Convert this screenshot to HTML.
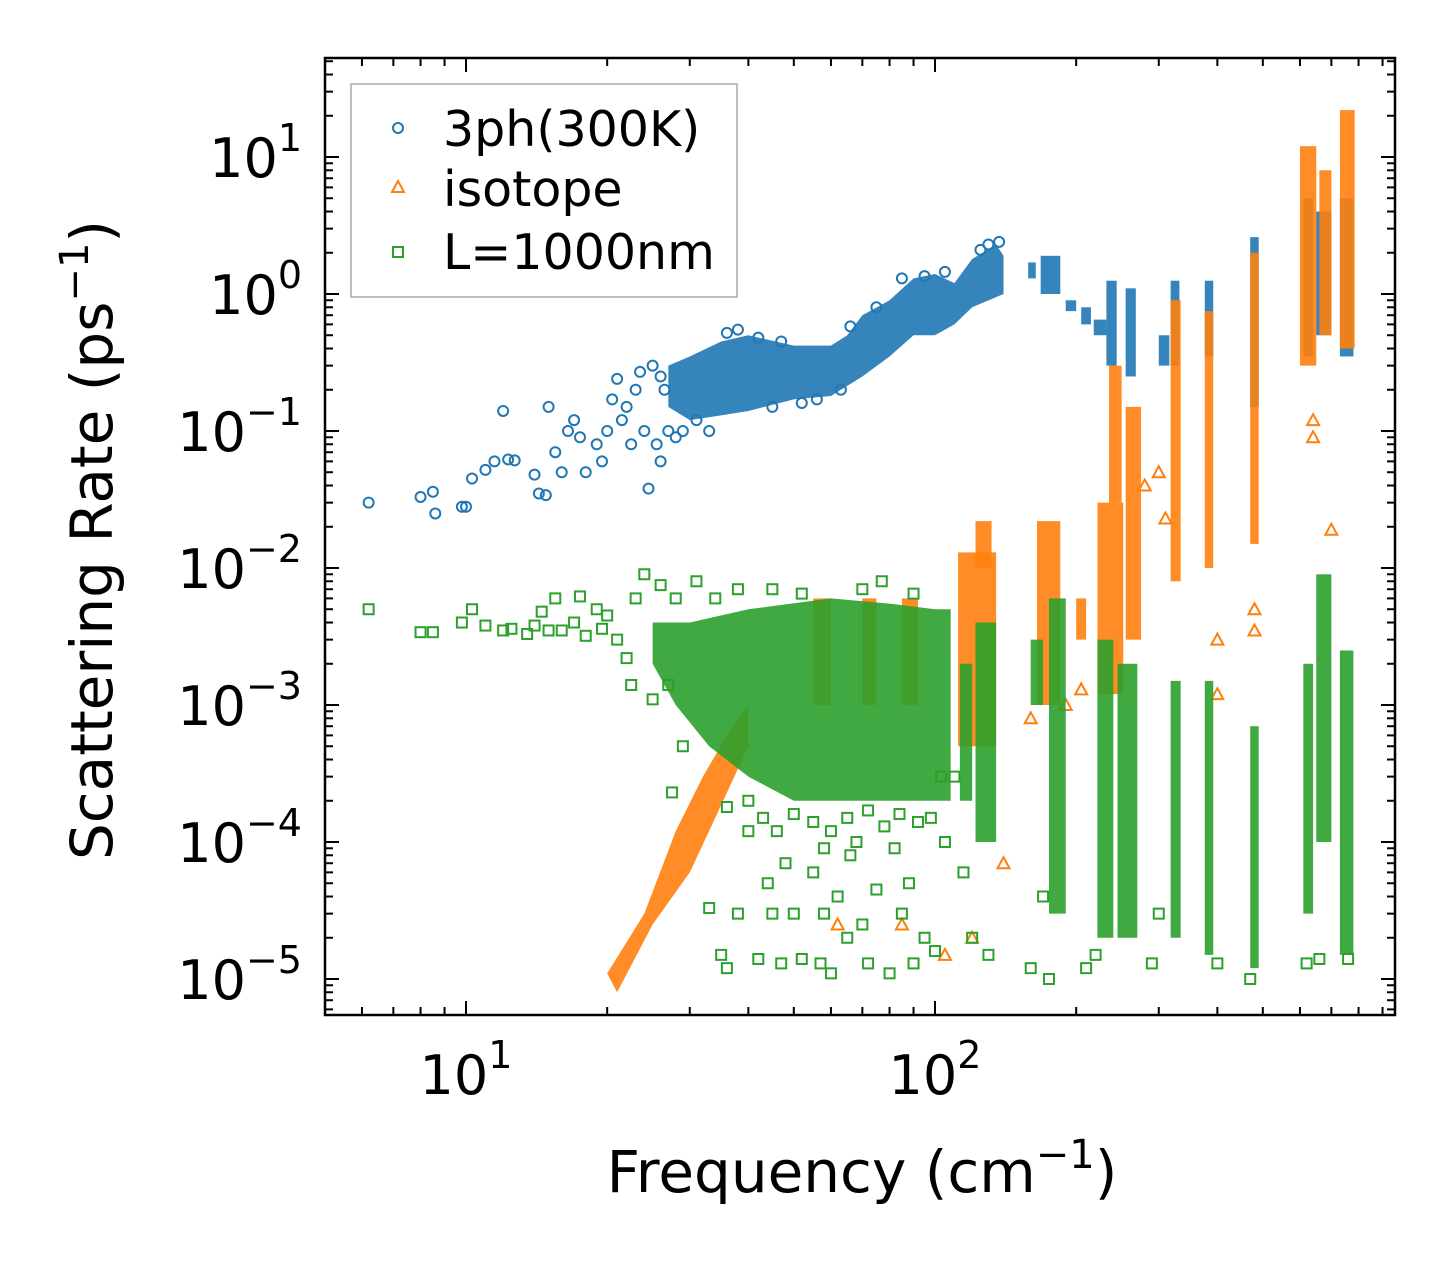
<!DOCTYPE html>
<html><head><meta charset="utf-8"><style>
body{margin:0;background:#fff;}
svg{display:block;font-family:"DejaVu Sans","Liberation Sans",sans-serif;}
</style></head><body>
<svg id="chart" width="1455" height="1265" viewBox="0 0 1455 1265" xmlns="http://www.w3.org/2000/svg">
<rect width="1455" height="1265" fill="#fff"/>
<defs><clipPath id="pc"><rect x="325" y="58" width="1070" height="957"/></clipPath></defs>
<g id="marks" clip-path="url(#pc)"></g>
<g id="axes"></g>
<rect x="325" y="58" width="1070" height="957" fill="none" stroke="#000" stroke-width="2.5"/>
<text x="862" y="1192" font-size="58" text-anchor="middle">Frequency (cm<tspan font-size="40" dy="-24">−1</tspan><tspan dy="24">)</tspan></text>
<text transform="translate(112,540) rotate(-90)" font-size="58" text-anchor="middle">Scattering Rate (ps<tspan font-size="40" dy="-24">−1</tspan><tspan dy="24">)</tspan></text>
<g>
<rect x="351" y="84" width="386" height="213" fill="#fff" stroke="#aaa" stroke-width="1.5"/>
<circle cx="398" cy="128" r="5" fill="none" stroke="#1f77b4" stroke-width="2"/>
<text x="443" y="146" font-size="49">3ph(300K)</text>
<path d="M392,192 L404,192 L398,181 Z" fill="none" stroke="#ff7f0e" stroke-width="2"/>
<text x="443" y="206" font-size="49">isotope</text>
<rect x="393" y="247" width="10" height="10" fill="none" stroke="#2ca02c" stroke-width="2"/>
<text x="443" y="269" font-size="49">L=1000nm</text>
</g>
</svg>
<script>
const xTickLabels=[1,2];
const yTickLabels=[1,0,-1,-2,-3,-4,-5];
const blueUpper=[[27,0.3],[30,0.35],[35,0.45],[40,0.5],[50,0.42],[60,0.42],[65,0.5],[70,0.7],[80,0.9],[90,1.3],[100,1.4],[110,1.2],[120,1.8],[135,2.3],[140,1.9]];
const blueLower=[[140,1.0],[120,0.8],[110,0.6],[100,0.5],[90,0.5],[80,0.35],[70,0.25],[60,0.18],[50,0.17],[40,0.14],[35,0.13],[30,0.12],[27,0.15]];
const blueBands=[[158,164,1.3,1.7],[168,185,1.0,1.9],[190,200,0.75,0.9],[205,215,0.6,0.8],[218,232,0.5,0.65],[232,244,0.3,1.25],[255,268,0.25,1.1],[300,316,0.3,0.5],[318,332,0.3,1.25],[376,392,0.35,1.25],[470,490,0.15,2.6],[610,640,0.35,5],[650,700,0.5,4],[730,780,0.35,5]];
const bluePts=[[6.2,0.03],[8,0.033],[8.5,0.036],[8.6,0.025],[9.8,0.028],[10,0.028],[10.3,0.045],[11,0.052],[11.5,0.06],[12,0.14],[12.3,0.062],[12.7,0.061],[14,0.048],[14.3,0.035],[14.8,0.034],[15,0.15],[15.5,0.07],[16,0.05],[16.5,0.1],[17,0.12],[17.5,0.09],[18,0.05],[19,0.08],[19.5,0.06],[20,0.1],[20.5,0.17],[21,0.24],[21.5,0.12],[22,0.15],[22.5,0.08],[23,0.2],[23.5,0.27],[24,0.1],[24.5,0.038],[25,0.3],[25.5,0.08],[26,0.06],[26.5,0.2],[27,0.1],[26,0.25],[28,0.09],[29,0.1],[31,0.12],[33,0.1],[36,0.52],[38,0.55],[42,0.48],[45,0.15],[47,0.45],[52,0.16],[56,0.17],[63,0.2],[66,0.58],[75,0.8],[85,1.3],[95,1.35],[105,1.45],[125,2.1],[130,2.3],[137,2.4]];
const orangeUpper=[[20,1.1e-5],[24,3e-5],[28,1.2e-4],[32,3e-4],[36,6e-4],[40,1e-3]];
const orangeLower=[[40,5e-4],[34,1.5e-4],[30,6e-5],[25,2.5e-5],[21,8e-6]];
const orangeBands=[[55,60,1e-3,6e-3],[70,75,1e-3,6e-3],[85,92,1e-3,6e-3],[112,135,5e-4,1.3e-2],[122,132,1e-2,2.2e-2],[165,185,1e-3,2.2e-2],[200,210,3e-3,6e-3],[222,252,1.2e-3,3e-2],[235,250,3e-2,0.3],[255,275,3e-3,0.15],[318,334,8e-3,0.9],[376,392,1e-2,0.75],[470,490,1.5e-2,2],[600,650,0.3,12],[660,700,0.5,8],[730,785,0.4,22]];
const orangePts=[[62,2.5e-5],[85,2.5e-5],[105,1.5e-5],[120,2e-5],[140,7e-5],[160,8e-4],[190,1e-3],[205,1.3e-3],[280,4e-2],[310,2.3e-2],[400,3e-3],[400,1.2e-3],[480,5e-3],[480,3.5e-3],[640,0.09],[640,0.12],[700,0.019],[300,5e-2]];
const greenUpper=[[25,4e-3],[30,4e-3],[40,5e-3],[60,6e-3],[80,5.5e-3],[100,5e-3],[108,5e-3]];
const greenLower=[[108,2e-4],[90,2e-4],[70,2e-4],[50,2e-4],[40,3e-4],[33,5e-4],[28,1e-3],[25,2e-3]];
const greenBands=[[113,120,2e-4,2e-3],[122,135,1e-4,4e-3],[160,170,1e-3,3e-3],[175,190,3e-5,6e-3],[222,240,2e-5,3e-3],[245,270,2e-5,2e-3],[318,334,2e-5,1.5e-3],[376,392,1.5e-5,1.5e-3],[470,490,1.2e-5,7e-4],[610,640,3e-5,2e-3],[650,700,1e-4,9e-3],[730,780,1.5e-5,2.5e-3]];
const greenPts=[[6.2,5e-3],[8,3.4e-3],[8.5,3.4e-3],[9.8,4e-3],[10.3,5e-3],[11,3.8e-3],[12,3.5e-3],[12.5,3.6e-3],[13.5,3.3e-3],[14,3.8e-3],[14.5,4.8e-3],[15,3.5e-3],[15.5,6e-3],[16,3.5e-3],[17,4e-3],[17.5,6.2e-3],[18,3.2e-3],[19,5e-3],[19.5,3.6e-3],[20,4.5e-3],[21,3e-3],[22,2.2e-3],[22.5,1.4e-3],[23,6e-3],[24,9e-3],[25,1.1e-3],[26,7.5e-3],[27,1.4e-3],[28,6e-3],[29,5e-4],[31,8e-3],[27.5,2.3e-4],[33,3.3e-5],[35,1.5e-5],[36,1.2e-5],[38,3e-5],[40,1.2e-4],[42,1.4e-5],[45,3e-5],[47,1.3e-5],[50,3e-5],[52,1.4e-5],[55,6e-5],[57,1.3e-5],[60,1.1e-5],[62,4e-5],[65,2e-5],[68,1e-4],[70,2.5e-5],[75,4.5e-5],[80,1.1e-5],[85,3e-5],[90,1.3e-5],[95,2e-5],[100,1.6e-5],[44,5e-5],[48,7e-5],[58,3e-5],[72,1.3e-5],[88,5e-5],[105,1e-4],[115,6e-5],[120,2e-5],[130,1.5e-5],[160,1.2e-5],[170,4e-5],[175,1e-5],[210,1.2e-5],[220,1.5e-5],[290,1.3e-5],[300,3e-5],[400,1.3e-5],[470,1e-5],[660,1.4e-5],[620,1.3e-5],[760,1.4e-5],[36,1.8e-4],[40,2e-4],[43,1.5e-4],[46,1.2e-4],[50,1.6e-4],[55,1.4e-4],[60,1.2e-4],[65,1.5e-4],[72,1.7e-4],[78,1.3e-4],[84,1.6e-4],[92,1.4e-4],[98,1.5e-4],[103,3e-4],[66,8e-5],[58,9e-5],[82,9e-5],[110,3e-4],[34,6e-3],[38,7e-3],[45,7e-3],[52,6.5e-3],[70,7e-3],[90,6.5e-3],[77,8e-3]];

const NS='http://www.w3.org/2000/svg';
const X=f=>466+469*(Math.log10(f)-1);
const Y=r=>294-137*Math.log10(r);
const marks=document.getElementById('marks');
const axes=document.getElementById('axes');
function mk(tag,attrs,parent){const e=document.createElementNS(NS,tag);for(const k in attrs)e.setAttribute(k,attrs[k]);parent.appendChild(e);return e;}
function series(up,lo,bands,pts,color,shape,name){
  const poly=mk('polygon',{points:up.concat(lo).map(p=>X(p[0])+','+Y(p[1])).join(' '),fill:color,'fill-opacity':0.9},marks);
  
  
  bands.forEach(b=>{
    const r=mk('rect',{x:X(b[0]),y:Y(b[3]),width:Math.max(4,X(b[1])-X(b[0])),height:Y(b[2])-Y(b[3]),fill:color,'fill-opacity':0.9},marks);
    
    
  });
  pts.forEach(p=>{
    const x=X(p[0]),y=Y(p[1]);let e;
    if(shape==='c')e=mk('circle',{cx:x,cy:y,r:5,fill:'none',stroke:color,'stroke-width':2},marks);
    else if(shape==='t')e=mk('path',{d:`M${x-6},${y+5} L${x+6},${y+5} L${x},${y-6} Z`,fill:'none',stroke:color,'stroke-width':2},marks);
    else e=mk('rect',{x:x-5,y:y-5,width:10,height:10,fill:'none',stroke:color,'stroke-width':2},marks);
    
    
  });
}
series(blueUpper,blueLower,blueBands,bluePts,'#1f77b4','c','3ph');
series(orangeUpper,orangeLower,orangeBands,orangePts,'#ff7f0e','t','isotope');
series(greenUpper,greenLower,greenBands,greenPts,'#2ca02c','s','boundary');
for(let d=0;d<=2;d++){for(let m=1;m<10;m++){const f=m*Math.pow(10,d);const x=X(f);if(x<325||x>1395)continue;const L=m===1?14:8;
 mk('line',{x1:x,x2:x,y1:1015,y2:1015-L,stroke:'#000','stroke-width':2},axes);
 mk('line',{x1:x,x2:x,y1:58,y2:58+L,stroke:'#000','stroke-width':2},axes);}}
xTickLabels.forEach(e=>{const t=mk('text',{x:X(Math.pow(10,e)),y:1094,'font-size':54,'text-anchor':'middle'},axes);t.innerHTML='10<tspan font-size="38" dy="-26">'+e+'</tspan>';
 
 });
for(let d=-6;d<=1;d++){for(let m=1;m<10;m++){const r=m*Math.pow(10,d);const y=Y(r);if(y<58||y>1015)continue;const L=m===1?14:8;
 mk('line',{x1:325,x2:325+L,y1:y,y2:y,stroke:'#000','stroke-width':2},axes);
 mk('line',{x1:1395,x2:1395-L,y1:y,y2:y,stroke:'#000','stroke-width':2},axes);}}
yTickLabels.forEach(e=>{const t=mk('text',{x:302,y:Y(Math.pow(10,e))+20,'font-size':54,'text-anchor':'end'},axes);
 t.innerHTML='10<tspan font-size="38" dy="-26">'+(e<0?'−'+(-e):e)+'</tspan>';
 
 });
</script>
</body></html>
